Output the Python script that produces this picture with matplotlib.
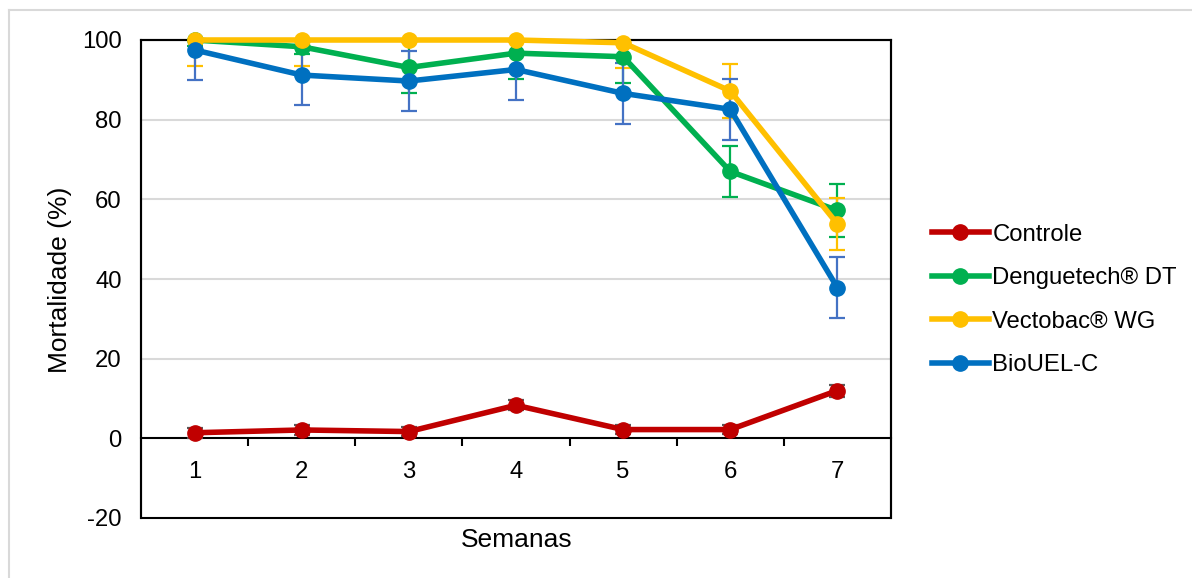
import matplotlib.pyplot as plt
from matplotlib.lines import Line2D
from matplotlib.patches import Rectangle

plt.rcParams['font.family'] = ['Liberation Sans', 'DejaVu Sans']
plt.rcParams['axes.unicode_minus'] = False

semanas = ['1', '2', '3', '4', '5', '6', '7']

controle = [1.4, 2.1, 1.7, 8.3, 2.2, 2.2, 12.0]
controle_err = [1.2, 1.2, 1.2, 1.3, 1.2, 1.2, 1.5]

dengue = [100, 98.3, 93.1, 96.7, 95.8, 67.0, 57.2]
dengue_err = [1.5, 1.7, 6.5, 6.5, 6.7, 6.4, 6.6]

vecto = [100, 100, 100, 100, 99.3, 87.2, 53.8]
vecto_err = [6.5, 6.5, 0.5, 0.5, 6.3, 6.7, 6.5]

bio = [97.5, 91.2, 89.7, 92.6, 86.6, 82.6, 37.8]
bio_err = [7.5, 7.5, 7.6, 7.6, 7.7, 7.7, 7.6]

series = [
    ('Controle', controle, controle_err, '#C00000', '#595959'),
    ('Denguetech® DT', dengue, dengue_err, '#00B050', '#00B050'),
    ('Vectobac® WG', vecto, vecto_err, '#FFC000', '#FFC000'),
    ('BioUEL-C', bio, bio_err, '#0070C0', '#4472C4'),
]

fs = 17.2

fig = plt.figure(figsize=(11.92, 5.78), dpi=100)
ax = fig.add_axes([141/1192, 1 - 518/578, 750/1192, 478/578])

x = list(range(len(semanas)))
handles = []
for name, vals, errs, col, ecol in series:
    ax.errorbar(x, vals, yerr=errs, fmt='none', ecolor=ecol, elinewidth=1.6,
                capsize=6, capthick=1.6, zorder=3)
    h, = ax.plot(x, vals, '-o', color=col, lw=4, markersize=11, label=name,
                 zorder=4, clip_on=False)
    handles.append(h)

ax.set_xlim(-0.5, len(semanas) - 0.5)
ax.set_ylim(-20, 100)
ax.set_yticks(range(-20, 101, 20))
ax.set_xticks(x)
ax.set_xticklabels(semanas)
ax.set_xticks([i + 0.5 for i in x[:-1]], minor=True)
ax.tick_params(axis='x', which='major', length=0, pad=16, labelsize=fs)
ax.tick_params(axis='x', which='minor', length=6, width=1.5, direction='out', color='black')
ax.tick_params(axis='y', length=0, pad=14, labelsize=fs)

for y in [20, 40, 60, 80]:
    ax.axhline(y, color='#D9D9D9', lw=1.5, zorder=1)

ax.spines['bottom'].set_position(('data', 0))
ax.spines['bottom'].set_linewidth(1.5)
for s in ['left', 'right', 'top']:
    ax.spines[s].set_linewidth(1.5)
ax.add_patch(Rectangle((0, 0), 1, 1, transform=ax.transAxes, fill=False,
                       edgecolor='black', lw=1.5, clip_on=False, zorder=2))

fig.text(60/1192, 1 - 280/578, 'Mortalidade (%)', rotation=90, ha='center', va='center',
         fontsize=19)
fig.text(517/1192, 1 - 540/578, 'Semanas', ha='center', va='center', fontsize=19)

ax.legend(handles=handles, loc='center left', bbox_to_anchor=(922/1192, 1 - 300/578),
          bbox_transform=fig.transFigure, frameon=False, fontsize=fs,
          handlelength=2.4, handletextpad=0.15, labelspacing=0.9, borderaxespad=0)

# outer chart border
fig.add_artist(Line2D([9/1192, 9/1192], [-0.1, 1 - 10/578], transform=fig.transFigure,
                      color='#D9D9D9', lw=1.5))
fig.add_artist(Line2D([9/1192, 1.1], [1 - 10/578, 1 - 10/578], transform=fig.transFigure,
                      color='#D9D9D9', lw=1.5))

fig.savefig('out.png', dpi=100)
